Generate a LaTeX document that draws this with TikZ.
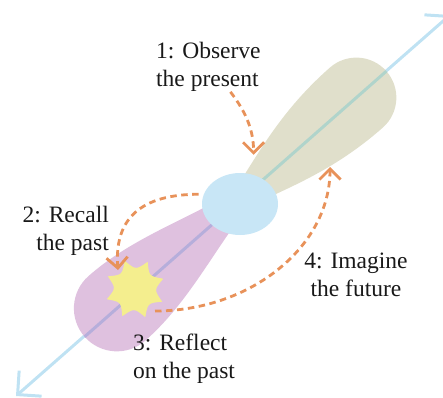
\documentclass[tikz,border=0pt]{standalone}
\usepackage{fontspec}
\setmainfont{Liberation Serif}
\usetikzlibrary{arrows.meta, shapes.geometric}

\definecolor{axisblue}{HTML}{BFE2F3}
\definecolor{nowblue}{HTML}{C8E6F6}
\definecolor{futureolive}{HTML}{E0DFCB}
\definecolor{pastpink}{HTML}{DFC1DF}
\definecolor{burstyellow}{HTML}{F4EE8E}
\definecolor{floworange}{HTML}{E8925A}
\definecolor{axisolive}{HTML}{B0D4CB}
\definecolor{axispink}{HTML}{B6AEDB}

\tikzset{
  timeaxis/.style={line width=3pt, {Straight Barb[angle=90:24pt]}-{Straight Barb[angle=90:24pt]}},
  flow/.style={line width=2.8pt, floworange, dash pattern=on 6.5pt off 4.5pt,
    -{Straight Barb[angle=90:15pt]}},
  steplabel/.style={font=\fontsize{23.5}{28}\selectfont, text=black!90, inner sep=0pt},
  futurelobe/.style={insert path={(20,16) .. controls (60,28) and (100,40) .. (155,40)
    arc[start angle=90, end angle=-90, radius=40]
    .. controls (100,-40) and (60,-28) .. (20,-16) -- cycle}},
  pastlobe/.style={insert path={(-20,15) .. controls (-70,27) and (-115,43) .. (-164,43)
    arc[start angle=90, end angle=270, radius=43]
    .. controls (-115,-43) and (-70,-27) .. (-20,-15) -- cycle}}
}

\begin{document}
\begin{tikzpicture}[x=1pt, y=1pt]
  \clip (0,0) rectangle (443,397);

  % ── time axis ──
  \coordinate (pastend) at (16,1);
  \coordinate (futureend) at (450,382);
  \draw[timeaxis, axisblue] (pastend) -- (futureend);

  % ── past and future lobes ──
  \begin{scope}[shift={(240,197)}, rotate=41.35]
    \fill[futureolive] [futurelobe];
    \fill[pastpink] [pastlobe];
    \begin{scope}
      \clip [futurelobe];
      \draw[line width=3pt, axisolive] (-250,0) -- (250,0);
    \end{scope}
    \begin{scope}
      \clip [pastlobe];
      \draw[line width=3pt, axispink] (-250,0) -- (250,0);
    \end{scope}
  \end{scope}

  % ── present ──
  \node[ellipse, fill=nowblue, minimum width=76pt, minimum height=62pt, inner sep=0pt]
    (now) at (240,193) {};

  % ── recalled moment ──
  \coordinate (burst) at (135,108);
  \begin{scope}[shift={(burst)}]
    \fill[burstyellow] (20:30) \foreach \a in {20,65,...,335} {
      .. controls ({\a+22.5}:19) .. ({\a+45}:30)} -- cycle;
  \end{scope}
  \coordinate (fut) at (330,230);

  % ── labels ──
  \node[steplabel, align=left, anchor=west] (obs) at (156,330) {1: Observe\\the present};
  \node[steplabel, align=right, anchor=east] (recall) at (109,166) {2: Recall\\the past};
  \node[steplabel, align=left, anchor=west] (reflect) at (133,38) {3: Reflect\\on the past};
  \node[steplabel, align=center] (imagine) at (356,122) {4: Imagine\\the future};

  % ── flows ──
  \draw[flow] ([xshift=22pt]obs.south) .. controls +(17,-22) and +(0,23) .. ([yshift=20pt]now.65);
  \draw[flow] ([xshift=-5pt]now.165) .. controls +(-57,0) and +(-4,52) .. ([shift={(-17,19)}]burst);
  \draw[flow] ([shift={(20,-22)}]burst) .. controls +(95,0) and +(0,-80) .. (fut);
\end{tikzpicture}
\end{document}
